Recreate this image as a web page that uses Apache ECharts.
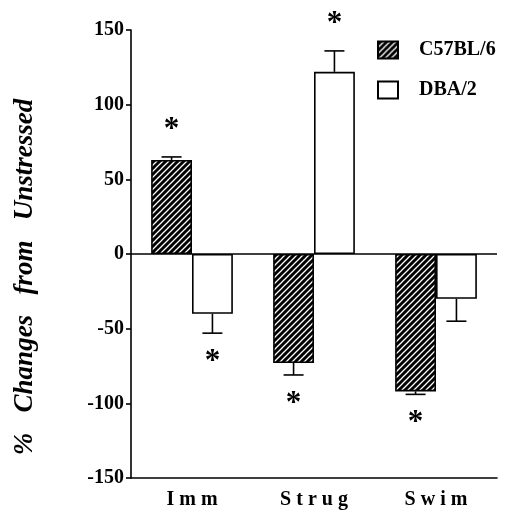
<!DOCTYPE html>
<html>
<head>
<meta charset="utf-8">
<script src="https://cdn.jsdelivr.net/npm/echarts@6/dist/echarts.min.js"></script>
<style>
  html, body { margin: 0; padding: 0; background: #fff; }
  #chart { width: 515px; height: 516px; }
</style>
</head>
<body>
<div id="chart"></div>
<script>
var categories = ['Imm', 'Strug', 'Swim'];
var seriesNames = ['C57BL/6', 'DBA/2'];
var c57Values = [63, -73, -92];
var c57Errors = [2, 8, 2];
var c57Stars = [1, 1, 1];
var dbaValues = [-40, 122, -30];
var dbaErrors = [13, 14, 15];
var dbaStars = [1, 1, 0];
var yMin = -150, yMax = 150, yStep = 50;

var serif = '"Liberation Serif", "Times New Roman", serif';

// black with white diagonal stripes
function makeHatch() {
    var c = document.createElement('canvas');
    c.width = 6; c.height = 6;
    var ctx = c.getContext('2d');
    ctx.fillStyle = '#000';
    ctx.fillRect(0, 0, 6, 6);
    ctx.strokeStyle = '#fff';
    ctx.lineWidth = 1.3;
    ctx.beginPath();
    ctx.moveTo(-1, 7); ctx.lineTo(7, -1);
    ctx.moveTo(-4, 4); ctx.lineTo(4, -4);
    ctx.moveTo(2, 10); ctx.lineTo(10, 2);
    ctx.stroke();
    return c;
}
var hatch = { image: makeHatch(), repeat: 'repeat' };

// error bar data: [category, value, error, star, side]
var errData = [];
for (var i = 0; i < categories.length; i++) {
    errData.push([i, c57Values[i], c57Errors[i], c57Stars[i], -1]);
    errData.push([i, dbaValues[i], dbaErrors[i], dbaStars[i], 1]);
}

function renderErr(params, api) {
    var idx = api.value(0), val = api.value(1), err = api.value(2);
    var star = api.value(3), side = api.value(4);
    var sign = val >= 0 ? 1 : -1;
    var base = api.coord([idx, val]);
    var barW = api.size([1, 0])[0] * 0.335;
    var x = base[0] + side * barW / 2;
    var yEnd = api.coord([idx, val + sign * err])[1];
    var style = { stroke: '#000', lineWidth: 1.6 };
    var children = [
        { type: 'line', shape: { x1: x, y1: base[1], x2: x, y2: yEnd }, style: style },
        { type: 'line', shape: { x1: x - 10, y1: yEnd, x2: x + 10, y2: yEnd }, style: style }
    ];
    if (star) {
        var sy = sign > 0 ? yEnd - 32 : yEnd + 24;
        children.push({
            type: 'text',
            style: {
                text: '*', x: x, y: sy + 5,
                font: 'bold 31px ' + serif,
                align: 'center', verticalAlign: 'middle', fill: '#000'
            }
        });
    }
    return { type: 'group', children: children };
}

var myChart = echarts.init(document.getElementById('chart'));

var option = {
    animation: false,
    backgroundColor: '#fff',
    grid: { left: 131, right: 18, top: 30, bottom: 38 },
    legend: {
        orient: 'vertical',
        left: 377,
        top: 40,
        padding: 0,
        itemWidth: 20,
        itemHeight: 17,
        itemGap: 20,
        icon: 'rect',
        data: seriesNames,
        textStyle: {
            fontFamily: serif, fontWeight: 'bold', fontSize: 20, color: '#000',
            padding: [0, 0, 0, 16]
        }
    },
    xAxis: {
        type: 'category',
        data: categories,
        axisLine: { onZero: false, lineStyle: { color: '#000', width: 1.6 } },
        axisTick: { inside: true, length: 5, lineStyle: { color: '#000', width: 1.6 } },
        axisLabel: {
            color: '#000', fontFamily: serif, fontWeight: 'bold', fontSize: 20, margin: 12,
            formatter: function (v) { return v.split('').join(' '); }
        }
    },
    yAxis: {
        type: 'value',
        min: yMin, max: yMax, interval: yStep,
        splitLine: { show: false },
        axisLine: { show: true, lineStyle: { color: '#000', width: 1.6 } },
        axisTick: { show: true, length: 5, lineStyle: { color: '#000', width: 1.6 } },
        axisLabel: { color: '#000', fontFamily: serif, fontWeight: 'bold', fontSize: 20, margin: 7 }
    },
    graphic: [{
        type: 'text',
        x: 25, y: 277,
        rotation: Math.PI / 2,
        style: {
            text: '%   Changes   from   Unstressed',
            font: 'italic bold 27px ' + serif,
            align: 'center', verticalAlign: 'middle', fill: '#000'
        }
    }],
    series: [
        {
            name: seriesNames[0],
            type: 'bar',
            data: c57Values,
            barGap: '0%',
            barCategoryGap: '33%',
            itemStyle: { color: hatch, borderColor: '#000', borderWidth: 1.6 },
            markLine: {
                silent: true,
                symbol: ['none', 'none'],
                label: { show: false },
                lineStyle: { color: '#000', width: 1.6, type: 'solid' },
                data: [{ yAxis: 0 }]
            }
        },
        {
            name: seriesNames[1],
            type: 'bar',
            data: dbaValues,
            barGap: '0%',
            barCategoryGap: '33%',
            itemStyle: { color: '#fff', borderColor: '#000', borderWidth: 1.6 }
        },
        {
            type: 'custom',
            renderItem: renderErr,
            data: errData,
            encode: { x: 0, y: 1 },
            clip: false,
            silent: true,
            z: 5
        }
    ]
};

myChart.setOption(option);
window.addEventListener('resize', function () {
    myChart.resize();
});
</script>
</body>
</html>
